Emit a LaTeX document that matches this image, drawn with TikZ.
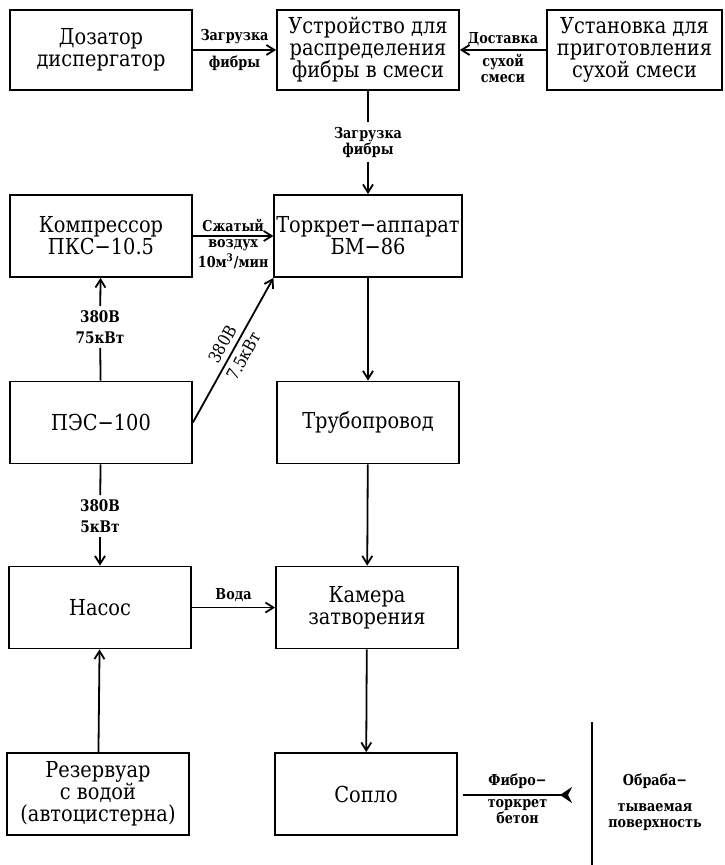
\documentclass[tikz,border=0pt]{standalone}
\usepackage{fontspec}
\setmainfont{DejaVu Serif}
\newfontfamily\boxfam{DejaVu Serif}[FakeStretch=0.88]
\newfontfamily\lblfam{DejaVu Serif}[FakeStretch=0.85]
\usepackage{tikz}
\usetikzlibrary{arrows.meta}

\newcommand{\boxfont}{\boxfam\fontsize{11}{11}\selectfont}
\newcommand{\lblfont}{\lblfam\fontsize{7.5}{8}\selectfont\bfseries}

\begin{document}
\begin{tikzpicture}[x=0.5pt,y=-0.5pt,
  blok/.style={draw,line width=0.9pt,minimum width=91pt,minimum height=41pt,
    inner sep=1pt,align=center,font=\boxfont},
  lbl/.style={font=\lblfont,align=center,inner sep=1.5pt},
  power/.style={font=\lblfam\fontsize{8}{10.5}\selectfont\bfseries,align=center,inner sep=2pt},
  diag/.style={font=\boxfam\fontsize{8.5}{9}\selectfont,sloped,midway,inner sep=1pt},
  wire/.style={line width=0.9pt},
  flow/.style={line width=0.9pt,-{Straight Barb[length=4pt,width=5pt]}}
]
\useasboundingbox (0,0) rectangle (724,865);
%--- row 1: fibre feed ---
\node[blok,minimum height=40pt] (dozator) at (101,50) {Дозатор\\диспергатор};
\node[blok,minimum height=40pt] (ustr) at (368,50) {Устройство для\\распределения\\фибры в смеси};
\node[blok,minimum height=40pt,minimum width=87.5pt] (ustan) at (634.5,50) {Установка для\\приготовления\\сухой смеси};
\draw[flow] (dozator) -- node[lbl,above=1pt]{Загрузка} node[lbl,below=1pt]{фибры} (ustr);
\draw[flow] (ustan) -- node[lbl,above]{Доставка} node[lbl,below]{сухой\\смеси} (ustr);
\node[lbl,inner sep=2pt] (zagr) at (368,142) {Загрузка\\фибры};
\draw[wire] (ustr) -- (zagr);
%--- row 2 ---
\node[blok] (kompr) at (101,236) {Компрессор\\ПКС−10.5};
\node[blok] (torkret) at (368,236) {Торкрет−аппарат\\БМ−86};
\draw[flow] (zagr) -- (torkret);
\draw[flow] (kompr) -- node[lbl,above]{Сжатый} node[lbl,below]{воздух\\10м\textsuperscript{3}/мин} (torkret);
%--- row 3: power station ---
\node[blok] (pes) at (101,422.5) {ПЭС−100};
\node[blok] (truba) at (368,422.5) {Трубопровод};
\node[power] (p75) at (100,327) {380В\\75кВт};
\node[power] (p5) at (100,516) {380В\\5кВт};
\draw[wire] (pes) -- (p75);
\draw[flow] (p75) -- (kompr);
\draw[wire] (pes) -- (p5);
\draw[flow] (pes.east) -- node[diag,above=1.5pt]{380В} node[diag,below=1.5pt]{7.5кВт} (torkret.south west);
\draw[flow] (torkret) -- (truba);
%--- row 4 ---
\node[blok] (nasos) at (100,607.5) {Насос};
\node[blok] (kamera) at (367,607.5) {Камера\\затворения};
\draw[flow] (p5) -- (nasos);
\draw[flow] (truba) -- (kamera);
\draw[flow] (nasos) -- node[lbl,above=1pt]{Вода} (kamera);
%--- row 5 ---
\node[blok] (rezerv) at (98,794) {Резервуар\\с водой\\(автоцистерна)};
\node[blok] (soplo) at (366,794) {Сопло};
\draw[flow] (rezerv) -- (nasos);
\draw[flow] (kamera) -- (soplo);
%--- spraying onto the surface ---
\coordinate (fstart) at (463,795);
\coordinate (fend) at (572,795);
\draw[line width=1.3pt,-{Stealth[reversed,length=6pt,width=8pt]}] (fstart) -- node[lbl,above=1pt]{Фибро−}
  node[lbl,below]{торкрет\\бетон} (fend);
\draw[wire] (592,722) -- (592,865);
\node[lbl] (poverh) at (655,802) {Обраба−\\[5pt]тываемая\\поверхность};
\end{tikzpicture}
\end{document}
